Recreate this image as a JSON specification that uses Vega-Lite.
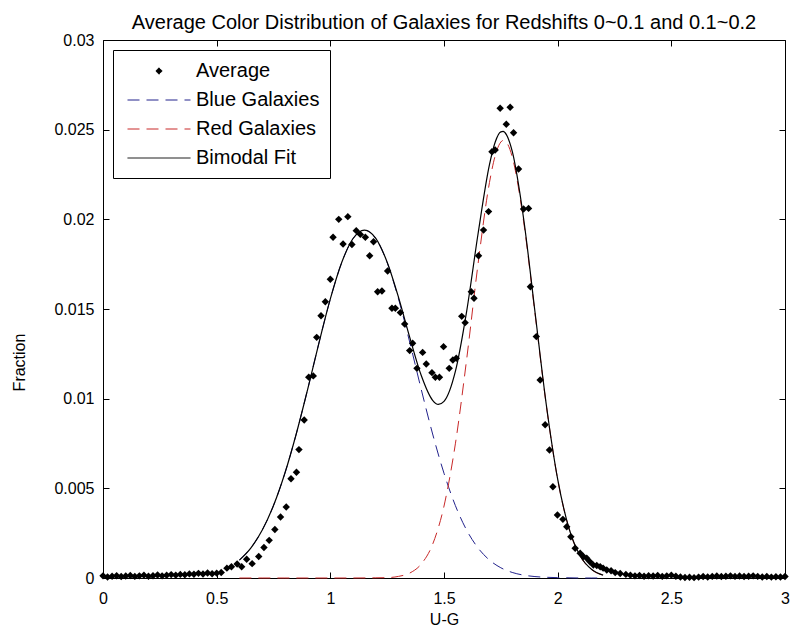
{
  "$schema": "https://vega.github.io/schema/vega-lite/v6.json",
  "width": 682,
  "height": 538,
  "autosize": {"type": "none"},
  "padding": {"left": 103, "top": 40, "right": 8, "bottom": 60},
  "background": "white",
  "title": {"text": "Average Color Distribution of Galaxies for Redshifts 0~0.1 and 0.1~0.2", "font": "Liberation Sans", "fontSize": 20, "fontWeight": "normal", "color": "black", "anchor": "middle", "offset": -1},
  "config": {
    "view": {"stroke": "black", "strokeWidth": 1},
    "axis": {"domain": false, "grid": false, "tickColor": "black", "tickSize": -6, "tickWidth": 1, "labelColor": "black", "labelFont": "Liberation Sans", "labelFontSize": 16, "titleFont": "Liberation Sans", "titleFontSize": 16, "titleFontWeight": "normal", "titleColor": "black", "labelFlush": false, "labelOverlap": false}
  },
  "datasets": {
    "pts": [
      {"x":0.00,"y":0.00012},{"x":0.02,"y":0.00006},{"x":0.04,"y":0.00010},{"x":0.06,"y":0.00013},{"x":0.08,"y":0.00008},{"x":0.10,"y":0.00011},{"x":0.12,"y":0.00014},{"x":0.14,"y":0.00009},{"x":0.16,"y":0.00012},{"x":0.18,"y":0.00016},{"x":0.20,"y":0.00010},{"x":0.22,"y":0.00013},{"x":0.24,"y":0.00017},{"x":0.26,"y":0.00012},{"x":0.28,"y":0.00015},{"x":0.30,"y":0.00019},{"x":0.32,"y":0.00016},{"x":0.34,"y":0.00020},{"x":0.36,"y":0.00018},{"x":0.38,"y":0.00023},{"x":0.40,"y":0.00021},{"x":0.42,"y":0.00026},{"x":0.44,"y":0.00022},{"x":0.46,"y":0.00028},{"x":0.48,"y":0.00024},{"x":0.50,"y":0.00027},{"x":0.52,"y":0.00031},
      {"x":0.545,"y":0.00055},{"x":0.565,"y":0.00063},{"x":0.59,"y":0.00078},{"x":0.61,"y":0.00063},{"x":0.632,"y":0.00105},{"x":0.656,"y":0.0008},{"x":0.685,"y":0.0012},{"x":0.708,"y":0.0017},{"x":0.731,"y":0.0021},{"x":0.756,"y":0.0027},{"x":0.781,"y":0.0034},{"x":0.806,"y":0.00396},{"x":0.827,"y":0.00553},{"x":0.851,"y":0.0059},{"x":0.862,"y":0.00716},{"x":0.885,"y":0.00881},{"x":0.905,"y":0.0112},{"x":0.925,"y":0.01127},{"x":0.94,"y":0.01342},{"x":0.959,"y":0.01462},{"x":0.978,"y":0.0154},{"x":1.0,"y":0.01666},{"x":1.012,"y":0.019},{"x":1.037,"y":0.0200},{"x":1.056,"y":0.01862},{"x":1.077,"y":0.02015},{"x":1.095,"y":0.0186},{"x":1.114,"y":0.01937},{"x":1.132,"y":0.01916},{"x":1.154,"y":0.0190},{"x":1.173,"y":0.01797},{"x":1.19,"y":0.01875},{"x":1.208,"y":0.01596},{"x":1.227,"y":0.0160},{"x":1.252,"y":0.01712},{"x":1.271,"y":0.01504},{"x":1.286,"y":0.01504},{"x":1.308,"y":0.0148},{"x":1.327,"y":0.01416},{"x":1.349,"y":0.01268},{"x":1.362,"y":0.01309},{"x":1.381,"y":0.01169},{"x":1.406,"y":0.01258},{"x":1.422,"y":0.01193},{"x":1.447,"y":0.01145},{"x":1.462,"y":0.01119},{"x":1.48,"y":0.01119},{"x":1.498,"y":0.0129},{"x":1.523,"y":0.01169},{"x":1.539,"y":0.01216},{"x":1.554,"y":0.01225},{"x":1.578,"y":0.01459},{"x":1.593,"y":0.01424},{"x":1.62,"y":0.01596},{"x":1.632,"y":0.0156},{"x":1.652,"y":0.01797},{"x":1.674,"y":0.0194},{"x":1.696,"y":0.02043},{"x":1.711,"y":0.02377},{"x":1.725,"y":0.02387},{"x":1.747,"y":0.02619},{"x":1.774,"y":0.0253},{"x":1.791,"y":0.02625},{"x":1.806,"y":0.02483},{"x":1.828,"y":0.02281},{"x":1.85,"y":0.02058},{"x":1.872,"y":0.02061},{"x":1.88,"y":0.01624},{"x":1.906,"y":0.01346},{"x":1.923,"y":0.01104},{"x":1.945,"y":0.00855},{"x":1.964,"y":0.00714},{"x":1.979,"y":0.00509},{"x":1.999,"y":0.00351},{"x":2.023,"y":0.00327},{"x":2.04,"y":0.00286},{"x":2.058,"y":0.0023},{"x":2.077,"y":0.00166},{"x":2.099,"y":0.00138},{"x":2.113,"y":0.0012},{"x":2.128,"y":0.0011},{"x":2.142,"y":0.0009},{"x":2.157,"y":0.00072},{"x":2.172,"y":0.0007},{"x":2.187,"y":0.00063},{"x":2.20,"y":0.00055},{"x":2.216,"y":0.00045},{"x":2.235,"y":0.0004},{"x":2.253,"y":0.0003},{"x":2.275,"y":0.00025},{"x":2.30,"y":0.0002},
      {"x":2.32,"y":0.00016},{"x":2.34,"y":0.00012},{"x":2.36,"y":0.00014},{"x":2.38,"y":0.0001},{"x":2.40,"y":0.00013},{"x":2.42,"y":0.00011},{"x":2.44,"y":0.00014},{"x":2.46,"y":0.00009},{"x":2.48,"y":0.00012},{"x":2.50,"y":0.00016},{"x":2.52,"y":0.0001},{"x":2.54,"y":0.00006},{"x":2.56,"y":0.00003},{"x":2.58,"y":0.00004},{"x":2.60,"y":0.00002},{"x":2.62,"y":0.00005},{"x":2.64,"y":0.00008},{"x":2.66,"y":0.00006},{"x":2.68,"y":0.00009},{"x":2.70,"y":0.00011},{"x":2.72,"y":0.00008},{"x":2.74,"y":0.0001},{"x":2.76,"y":0.00012},{"x":2.78,"y":0.00009},{"x":2.80,"y":0.00011},{"x":2.82,"y":0.00008},{"x":2.84,"y":0.0001},{"x":2.86,"y":0.00012},{"x":2.88,"y":0.00009},{"x":2.90,"y":0.00006},{"x":2.92,"y":0.00008},{"x":2.94,"y":0.00005},{"x":2.96,"y":0.00007},{"x":2.98,"y":0.00006},{"x":3.00,"y":0.00008}
    ],
    "blue": [
      {"x":0.6,"y":0.001},{"x":0.65,"y":0.00167},{"x":0.7,"y":0.00266},{"x":0.75,"y":0.00404},{"x":0.8,"y":0.00584},{"x":0.85,"y":0.00803},{"x":0.9,"y":0.01051},{"x":0.95,"y":0.01311},{"x":1.0,"y":0.01556},{"x":1.05,"y":0.01759},{"x":1.1,"y":0.01893},{"x":1.15,"y":0.0194},{"x":1.2,"y":0.01893},{"x":1.25,"y":0.01759},{"x":1.3,"y":0.01556},{"x":1.35,"y":0.01311},{"x":1.4,"y":0.01051},{"x":1.45,"y":0.00803},{"x":1.5,"y":0.00584},{"x":1.55,"y":0.00404},{"x":1.6,"y":0.00266},{"x":1.65,"y":0.00167},{"x":1.7,"y":0.001},{"x":1.75,"y":0.00057},{"x":1.8,"y":0.00031},{"x":1.85,"y":0.00016},{"x":1.9,"y":0.00008},{"x":1.95,"y":0.00004},{"x":2.0,"y":0.00002},{"x":2.05,"y":0.00001},{"x":2.1,"y":0},{"x":2.15,"y":0},{"x":2.2,"y":0}
    ],
    "red": [
      {"x":0.6,"y":0},{"x":0.7,"y":0},{"x":0.8,"y":0},{"x":0.9,"y":0},{"x":1.0,"y":0},{"x":1.1,"y":0},{"x":1.2,"y":0.00001},{"x":1.25,"y":0.00002},{"x":1.3,"y":0.00009},{"x":1.35,"y":0.00028},{"x":1.4,"y":0.00078},{"x":1.45,"y":0.00188},{"x":1.5,"y":0.00401},{"x":1.55,"y":0.00748},{"x":1.6,"y":0.01223},{"x":1.65,"y":0.01754},{"x":1.7,"y":0.02205},{"x":1.725,"y":0.02354},{"x":1.75,"y":0.02431},{"x":1.76,"y":0.0244},{"x":1.775,"y":0.02429},{"x":1.8,"y":0.02349},{"x":1.85,"y":0.0199},{"x":1.9,"y":0.01478},{"x":1.95,"y":0.00963},{"x":2.0,"y":0.0055},{"x":2.05,"y":0.00275},{"x":2.1,"y":0.00121},{"x":2.15,"y":0.00046},{"x":2.2,"y":0.00016}
    ],
    "fit": [
      {"x":0.6,"y":0.001},{"x":0.65,"y":0.00167},{"x":0.7,"y":0.00266},{"x":0.75,"y":0.00404},{"x":0.8,"y":0.00584},{"x":0.85,"y":0.00803},{"x":0.9,"y":0.01051},{"x":0.95,"y":0.01311},{"x":1.0,"y":0.01556},{"x":1.05,"y":0.01759},{"x":1.1,"y":0.01893},{"x":1.15,"y":0.0194},{"x":1.2,"y":0.01894},{"x":1.25,"y":0.01761},{"x":1.3,"y":0.01565},{"x":1.35,"y":0.01339},{"x":1.4,"y":0.01129},{"x":1.45,"y":0.00991},{"x":1.475,"y":0.00968},{"x":1.5,"y":0.00985},{"x":1.55,"y":0.01152},{"x":1.6,"y":0.0149},{"x":1.65,"y":0.01921},{"x":1.7,"y":0.02305},{"x":1.725,"y":0.0243},{"x":1.75,"y":0.02488},{"x":1.76,"y":0.0249},{"x":1.775,"y":0.02471},{"x":1.8,"y":0.0238},{"x":1.85,"y":0.02006},{"x":1.9,"y":0.01486},{"x":1.95,"y":0.00966},{"x":2.0,"y":0.00551},{"x":2.05,"y":0.00276},{"x":2.1,"y":0.00121},{"x":2.15,"y":0.00047},{"x":2.2,"y":0.00016}
    ]
  },
  "layer": [
    {
      "data": {"name": "blue"},
      "mark": {"type": "line", "strokeWidth": 1, "strokeDash": [12, 7], "interpolate": "monotone"},
      "encoding": {
        "x": {"field": "x", "type": "quantitative", "scale": {"domain": [0, 3], "nice": false, "zero": false},
              "axis": {"orient": "top", "values": [0, 0.5, 1, 1.5, 2, 2.5, 3], "labels": false, "title": null}},
        "y": {"field": "y", "type": "quantitative", "scale": {"domain": [0, 0.03], "nice": false},
              "axis": {"orient": "right", "values": [0, 0.005, 0.01, 0.015, 0.02, 0.025, 0.03], "labels": false, "title": null}},
        "color": {"datum": "Blue Galaxies", "type": "nominal",
          "scale": {"domain": ["Average", "Blue Galaxies", "Red Galaxies", "Bimodal Fit"], "range": ["black", "#22228c", "#c82828", "black"]},
          "legend": {
            "title": null, "orient": "top-left", "offset": 10, "padding": 10,
            "strokeColor": "black", "fillColor": "white", "cornerRadius": 0,
            "labelFont": "Liberation Sans", "labelFontSize": 20, "labelColor": "black",
            "symbolType": "stroke", "symbolSize": 441, "symbolOffset": 25, "labelOffset": 26, "symbolStrokeWidth": 1, "rowPadding": 8,
            "encode": {"symbols": {"update": {
              "shape": {"signal": "datum.value === 'Average' ? 'diamond' : 'M-3,0L3,0'"},
              "size": {"signal": "datum.value === 'Average' ? 40 : 441"},
              "fill": {"signal": "datum.value === 'Average' ? 'black' : 'transparent'"},
              "stroke": {"signal": "datum.value === 'Blue Galaxies' ? '#22228c' : datum.value === 'Red Galaxies' ? '#c82828' : 'black'"},
              "strokeDash": {"signal": "datum.value === 'Blue Galaxies' || datum.value === 'Red Galaxies' ? [12, 7] : [1, 0]"},
              "strokeWidth": {"value": 1},
              "opacity": {"value": 1}
            }}}
          }}
      }
    },
    {
      "data": {"name": "red"},
      "mark": {"type": "line", "strokeWidth": 1, "strokeDash": [12, 7], "interpolate": "monotone"},
      "encoding": {
        "x": {"field": "x", "type": "quantitative", "axis": null},
        "y": {"field": "y", "type": "quantitative", "axis": null},
        "color": {"datum": "Red Galaxies", "type": "nominal"}
      }
    },
    {
      "data": {"name": "fit"},
      "mark": {"type": "line", "strokeWidth": 1.2, "interpolate": "monotone"},
      "encoding": {
        "x": {"field": "x", "type": "quantitative",
              "axis": {"orient": "bottom", "values": [0, 0.5, 1, 1.5, 2, 2.5, 3], "format": "~g", "labelPadding": 18, "title": "U-G", "titlePadding": 5}},
        "y": {"field": "y", "type": "quantitative",
              "axis": {"orient": "left", "values": [0, 0.005, 0.01, 0.015, 0.02, 0.025, 0.03], "format": "~g", "labelPadding": 15, "title": "Fraction", "titlePadding": 26, "titleY": 322}},
        "color": {"datum": "Bimodal Fit", "type": "nominal"}
      }
    },
    {
      "data": {"name": "pts"},
      "mark": {"type": "point", "shape": "diamond", "filled": true, "size": 55, "opacity": 1},
      "encoding": {
        "x": {"field": "x", "type": "quantitative", "axis": null},
        "y": {"field": "y", "type": "quantitative", "axis": null},
        "color": {"datum": "Average", "type": "nominal"}
      }
    }
  ],
  "resolve": {"axis": {"x": "independent", "y": "independent"}}
}
